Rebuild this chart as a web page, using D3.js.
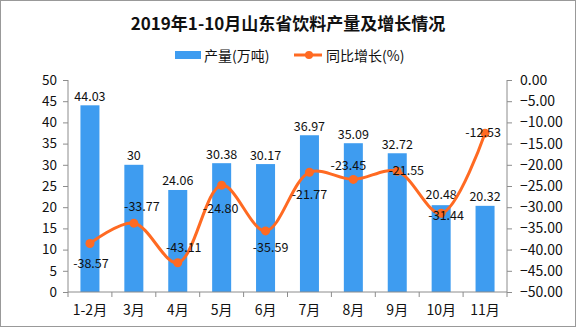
<!DOCTYPE html>
<html><head><meta charset="utf-8">
<script src="https://cdn.jsdelivr.net/npm/d3@7/dist/d3.min.js"></script>
<style>body{margin:0;background:#fff}svg{display:block}text{font-family:"Noto Sans CJK SC","DejaVu Sans",sans-serif}</style>
</head><body><svg id="c" width="576" height="327"></svg>
<script>
const title = "2019年1-10月山东省饮料产量及增长情况";
const categories = ["1-2月","3月","4月","5月","6月","7月","8月","9月","10月","11月"];
const production = [44.03,30,24.06,30.38,30.17,36.97,35.09,32.72,20.48,20.32];
const growth = [-38.57,-33.77,-43.11,-24.80,-35.59,-21.77,-23.45,-21.55,-31.44,-12.53];
const leftTicks = [0,5,10,15,20,25,30,35,40,45,50];
const rightTicks = [0,-5,-10,-15,-20,-25,-30,-35,-40,-45,-50];
const seriesNames = ["产量(万吨)","同比增长(%)"];

const svg = d3.select("#c");
const W=576,H=327, L=68, R=507, T=80, B=292;
const barColor="#3e9cf0", lineColor="#ff6a22", axisColor="#8c8c8c";

svg.append("rect").attr("x",0.5).attr("y",0.5).attr("width",W-1).attr("height",H-1)
  .attr("fill","#fff").attr("stroke","#999");

const x = d3.scaleBand().domain(categories).range([L,R]).paddingInner(0.567).paddingOuter(0.2835);
const yL = d3.scaleLinear().domain([0,50]).range([B,T]);
const yR = d3.scaleLinear().domain([-50,0]).range([B,T]);

// title
svg.append("text").attr("x",288).attr("y",22).attr("text-anchor","middle").attr("dominant-baseline","central")
  .attr("font-size",17).attr("font-weight","bold").attr("fill","#111").text(title);

// legend
const lg = svg.append("g");
lg.append("rect").attr("x",175).attr("y",51).attr("width",26).attr("height",8).attr("fill",barColor);
lg.append("text").attr("x",204).attr("y",55).attr("dominant-baseline","central").attr("font-size",14).attr("fill","#111").text(seriesNames[0]);
lg.append("line").attr("x1",294).attr("x2",322).attr("y1",55).attr("y2",55).attr("stroke",lineColor).attr("stroke-width",3);
lg.append("circle").attr("cx",309).attr("cy",55).attr("r",4).attr("fill",lineColor);
lg.append("text").attr("x",326).attr("y",55).attr("dominant-baseline","central").attr("font-size",14).attr("fill","#111").text(seriesNames[1]);

// bars
svg.append("g").selectAll("rect").data(production).join("rect")
  .attr("x",(d,i)=>x(categories[i])).attr("width",x.bandwidth())
  .attr("y",d=>yL(d)).attr("height",d=>B-yL(d)).attr("fill",barColor);

// axes
const axL = svg.append("g").attr("transform",`translate(${L},0)`)
  .call(d3.axisLeft(yL).tickValues(leftTicks).tickSize(5).tickPadding(6).tickFormat(d3.format("d")));
const axR = svg.append("g").attr("transform",`translate(${R},0)`)
  .call(d3.axisRight(yR).tickValues(rightTicks).tickSize(5).tickPadding(8).tickFormat(d=>d===0?"0.00":d3.format(".2f")(d)));
const axB = svg.append("g").attr("transform",`translate(0,${B})`)
  .call(d3.axisBottom(x).tickSize(0).tickPadding(13));
// category boundary ticks
const step = x.step();
svg.append("g").selectAll("line").data(d3.range(categories.length+1)).join("line")
  .attr("x1",i=>L+i*step).attr("x2",i=>L+i*step).attr("y1",B).attr("y2",B+5).attr("stroke",axisColor);
[axL,axR,axB].forEach(a=>{
  a.selectAll(".domain").attr("stroke",axisColor);
  a.selectAll(".tick line").attr("stroke",axisColor);
  a.selectAll("text").attr("fill","#111").attr("font-family",'"Noto Sans CJK SC",sans-serif');
});
axL.selectAll("text").attr("font-size",13.5);
axR.selectAll("text").attr("font-size",14);
axB.selectAll("text").attr("font-size",14);
axL.select(".domain").attr("d",`M0,${T}V${B}`);
axR.select(".domain").attr("d",`M0,${T}V${B}`);
axB.select(".domain").attr("d",`M${L},0H${R}`);

// bar labels
const barLblOff = [10,10,10,10,10,10,10,10,12,10];
svg.append("g").selectAll("text").data(production).join("text")
  .attr("x",(d,i)=>x(categories[i])+x.bandwidth()/2).attr("y",(d,i)=>yL(d)-barLblOff[i])
  .attr("text-anchor","middle").attr("dominant-baseline","central")
  .attr("font-size",12.5).attr("fill","#111").text(d=>String(d));

// line
const cx = i=>x(categories[i])+x.bandwidth()/2;
const line = d3.line().x((d,i)=>cx(i)).y(d=>yR(d)).curve(d3.curveCatmullRom.alpha(0.5));
svg.append("path").datum(growth).attr("d",line).attr("fill","none")
  .attr("stroke",lineColor).attr("stroke-width",3);
svg.append("g").selectAll("circle").data(growth).join("circle")
  .attr("cx",(d,i)=>cx(i)).attr("cy",d=>yR(d)).attr("r",4.5).attr("fill",lineColor);

// line labels (placement offsets, layout only)
const lblOff = [[1,19],[8,-18],[6,-16],[-1,22],[5,16],[0,21],[-5,-15],[9,-2],[5,1],[-2,-2]];
svg.append("g").selectAll("text").data(growth).join("text")
  .attr("x",(d,i)=>cx(i)+lblOff[i][0]).attr("y",(d,i)=>yR(d)+lblOff[i][1])
  .attr("text-anchor","middle").attr("dominant-baseline","central")
  .attr("font-size",12.5).attr("fill","#111").text(d=>d.toFixed(2));
</script></body></html>
